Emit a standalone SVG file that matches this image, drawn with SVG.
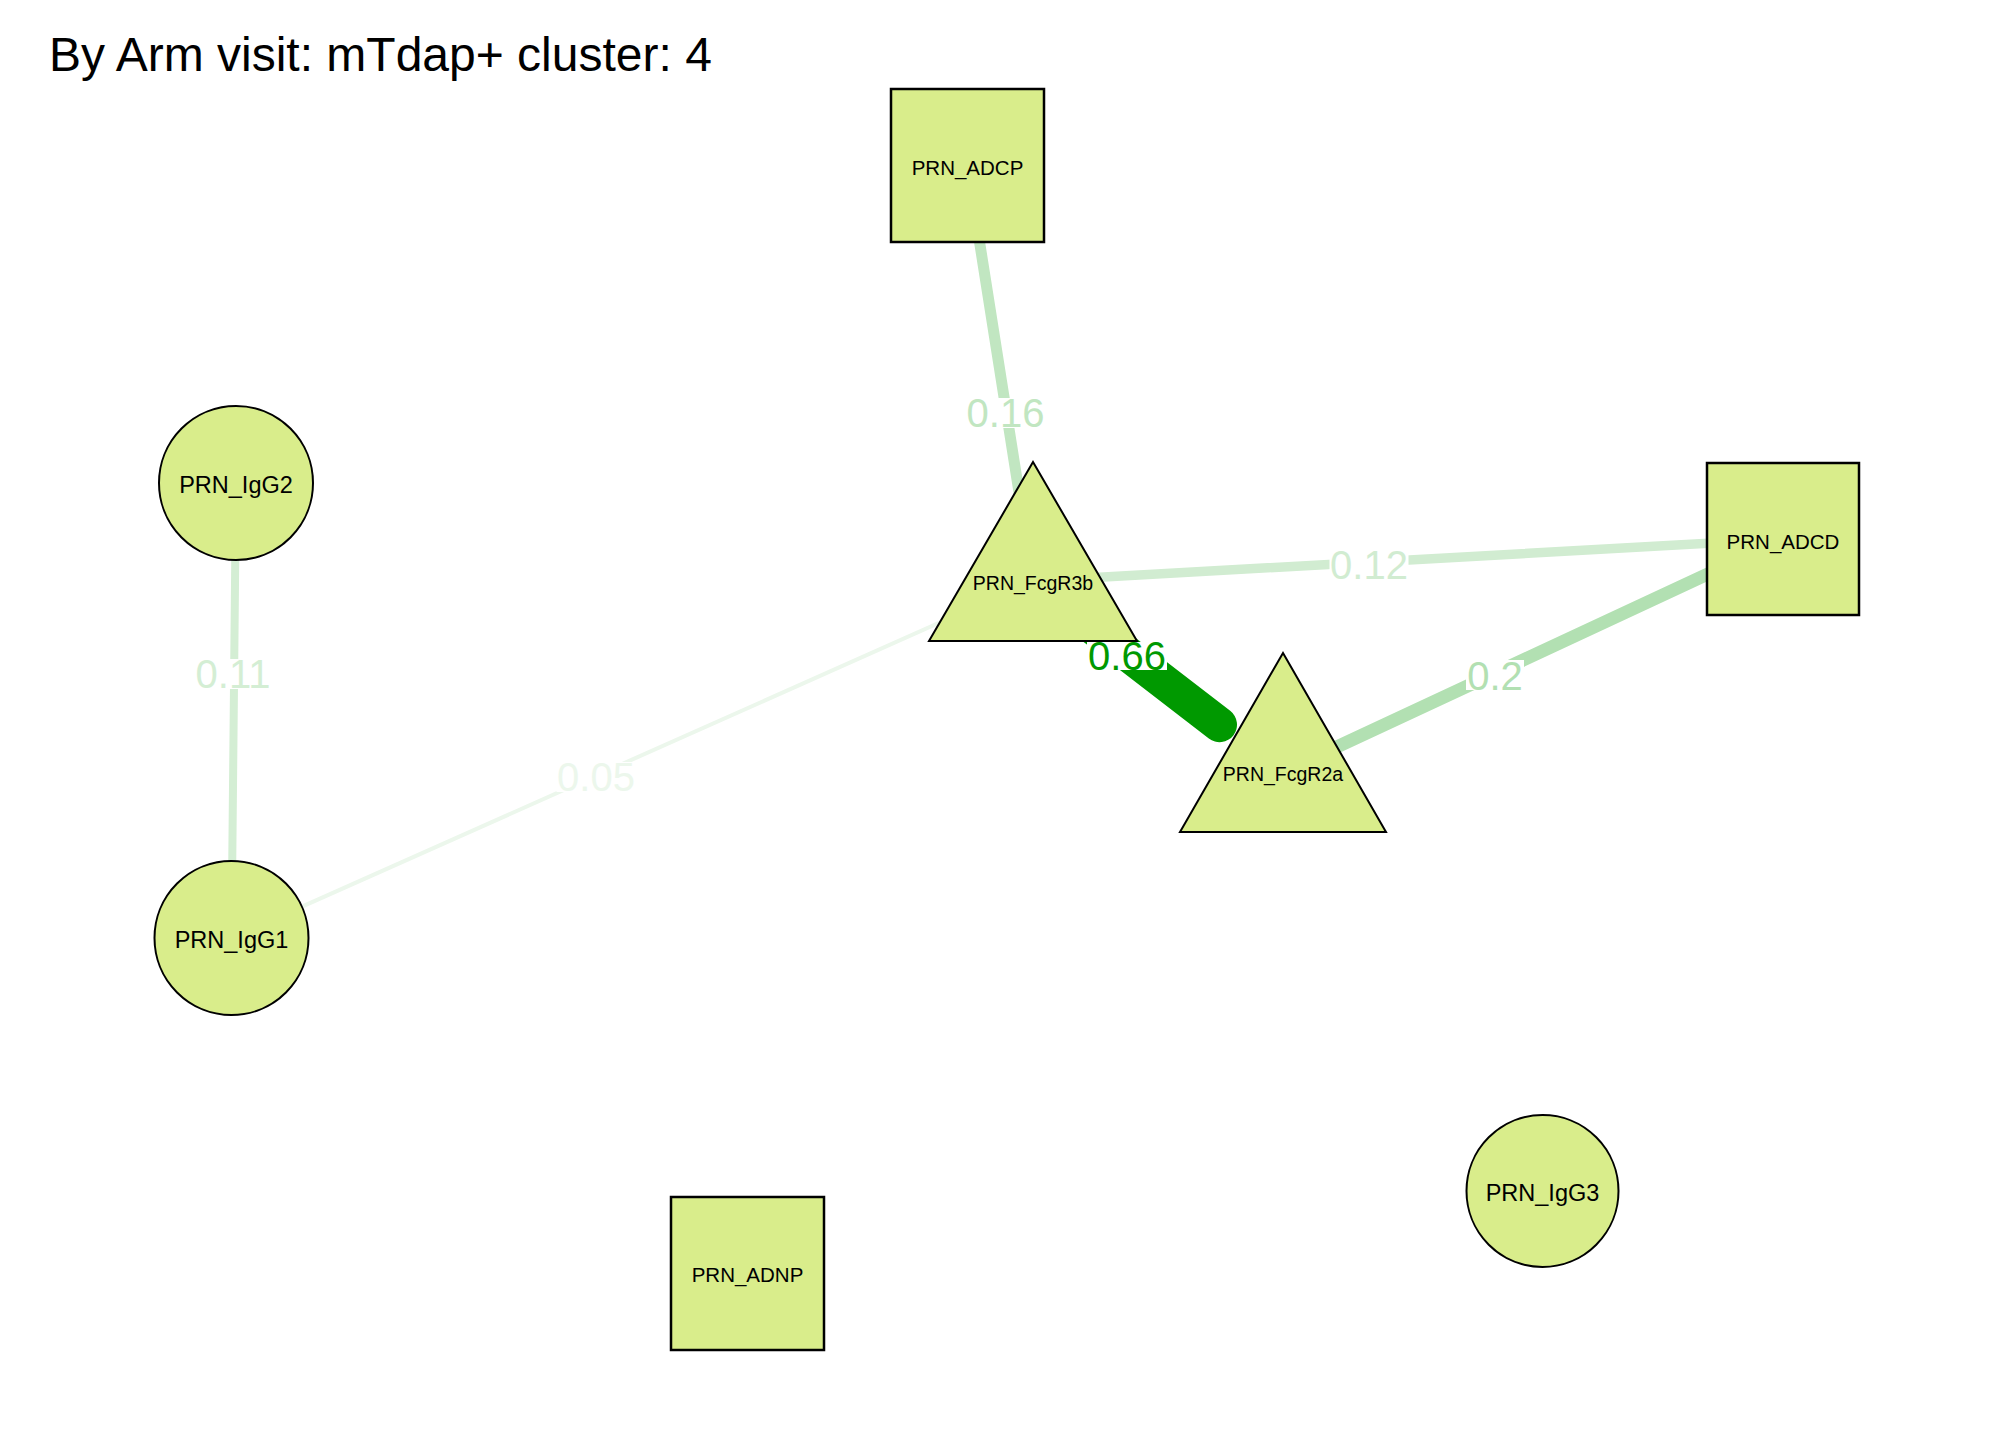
<svg xmlns="http://www.w3.org/2000/svg" width="2016" height="1440" viewBox="0 0 2016 1440">
<style>
.node{fill:#d9ed8b;stroke:#000}
.sq{stroke-width:2.5}
.ci{stroke-width:2}
.tr{stroke-width:2;stroke-linejoin:miter}
.nl{font-family:"Liberation Sans",Arial,sans-serif;fill:#000;text-anchor:middle}
.el{font-family:"Liberation Sans",Arial,sans-serif;font-size:40px;text-anchor:middle}
.lb{fill:#fff}
.e{fill:none;stroke-linecap:round}
</style>
<rect width="2016" height="1440" fill="#fff"/>
<text x="49" y="71" font-family="Liberation Sans, Arial, sans-serif" font-size="48" fill="#000">By Arm visit: mTdap+ cluster: 4</text>
<g id="connectors">
  <line class="e" x1="236" y1="483" x2="231.5" y2="938" stroke="#d4eed4" stroke-width="8"/>
  <line class="e" x1="231.5" y1="938" x2="1033" y2="581" stroke="#ecf7ec" stroke-width="4"/>
  <line class="e" x1="967.5" y1="165.5" x2="1033" y2="581" stroke="#c1e6c1" stroke-width="11"/>
  <line class="e" x1="1033" y1="581" x2="1783" y2="539" stroke="#d1ecd1" stroke-width="9.5"/>
  <line class="e" x1="1283" y1="772" x2="1783" y2="539" stroke="#b2e0b2" stroke-width="13"/>
  <line class="e" x1="1033" y1="581" x2="1219.5" y2="724.7" stroke="#009900" stroke-width="35"/>
  <g id="edge-labels">
    <rect class="lb" x="193.5" y="659" width="79" height="30"/>
    <text class="el" x="233" y="688" fill="#d4eed4">0.11</text>
    <rect class="lb" x="556.5" y="762" width="79" height="30"/>
    <text class="el" x="596" y="791" fill="#ecf7ec">0.05</text>
    <rect class="lb" x="966" y="398" width="79" height="30"/>
    <text class="el" x="1005.5" y="427" fill="#c1e6c1">0.16</text>
    <rect class="lb" x="1329.5" y="549" width="79" height="30"/>
    <text class="el" x="1369" y="578.5" fill="#d1ecd1">0.12</text>
    <rect class="lb" x="1466" y="660" width="58" height="30"/>
    <text class="el" x="1495" y="689.5" fill="#b2e0b2">0.2</text>
    <rect class="lb" x="1087" y="642" width="80" height="28"/>
    <text class="el" x="1127" y="669.5" fill="#009900">0.66</text>
  </g>
</g>
<g id="PRN_ADCP">
  <rect class="node sq" x="891" y="89" width="153" height="153"/>
  <text class="nl" x="967.5" y="174.5" font-size="20.5">PRN_ADCP</text>
</g>
<g id="PRN_ADCD">
  <rect class="node sq" x="1707" y="463" width="152" height="152"/>
  <text class="nl" x="1783" y="548.5" font-size="20.5">PRN_ADCD</text>
</g>
<g id="PRN_ADNP">
  <rect class="node sq" x="671" y="1197" width="153" height="153"/>
  <text class="nl" x="747.5" y="1282" font-size="20.5">PRN_ADNP</text>
</g>
<g id="PRN_IgG2">
  <circle class="node ci" cx="236" cy="483" r="77"/>
  <text class="nl" x="236" y="493" font-size="23.5">PRN_IgG2</text>
</g>
<g id="PRN_IgG1">
  <circle class="node ci" cx="231.5" cy="938" r="77"/>
  <text class="nl" x="231.5" y="948" font-size="23.5">PRN_IgG1</text>
</g>
<g id="PRN_IgG3">
  <circle class="node ci" cx="1542.5" cy="1191" r="76"/>
  <text class="nl" x="1542.5" y="1201" font-size="23.5">PRN_IgG3</text>
</g>
<g id="PRN_FcgR3b">
  <polygon class="node tr" points="1033,462 1137,641 929,641"/>
  <text class="nl" x="1033" y="589.5" font-size="19.5">PRN_FcgR3b</text>
</g>
<g id="PRN_FcgR2a">
  <polygon class="node tr" points="1283,653 1386,832 1180,832"/>
  <text class="nl" x="1283" y="780.5" font-size="19.5">PRN_FcgR2a</text>
</g>
</svg>
